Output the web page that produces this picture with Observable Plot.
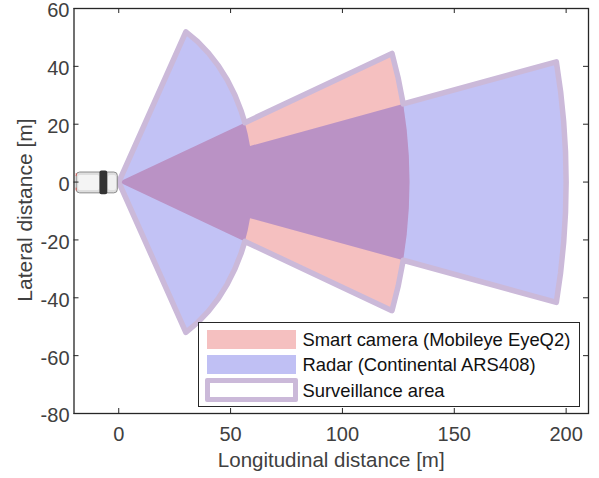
<!DOCTYPE html>
<html><head><meta charset="utf-8">
<script src="https://cdn.jsdelivr.net/npm/d3@7"></script>
<script src="https://cdn.jsdelivr.net/npm/@observablehq/plot@0.6"></script>
<style>
html,body{margin:0;padding:0;background:#fff}
#wrap{position:relative;width:599px;height:478px;font-family:"Liberation Sans",Arial,sans-serif}
#legend{position:absolute;left:198px;top:322px;width:382px;height:85px;box-sizing:border-box;background:#fff;border:1.3px solid #262626;font-size:18.4px;color:#111}
#legend .row{position:absolute;left:103.5px;line-height:20px;white-space:nowrap}
#legend .sw{position:absolute;left:8px;width:89px;height:18.5px}
</style></head><body>
<div id="wrap">
<div id="legend">
<div class="sw" style="top:7px;background:#f5c0c0"></div><div class="row" style="top:7px">Smart camera (Mobileye EyeQ2)</div>
<div class="sw" style="top:32px;background:#c0c0f4"></div><div class="row" style="top:32px">Radar (Continental ARS408)</div>
<div class="sw" style="top:55px;left:6px;width:83px;height:14px;border:5px solid #cbb9d9;border-radius:2px"></div><div class="row" style="top:58px">Surveillance area</div>
</div>
</div>
<script>
const xTicks = [0, 50, 100, 150, 200];
const yTicks = [-80, -60, -40, -20, 0, 20, 40, 60];
const xLabel = ["Longitudinal distance [m]"];
const yLabel = ["Lateral distance [m]"];

const cameraX = [0, 122.16, 124.96, 127.16, 128.73, 129.68, 130, 129.68, 128.73, 127.16, 124.96, 122.16, 0];
const cameraY = [0, 44.46, 35.83, 27.03, 18.09, 9.07, 0, -9.07, -18.09, -27.03, -35.83, -44.46, 0];

const radarX = [0, 30, 35.27, 40.15, 44.59, 48.54, 51.96, 54.81, 56.38, 57.68, 58.69, 195.63, 197.54, 198.9, 199.73, 200, 199.73, 198.9, 197.54, 195.63, 58.69, 57.68, 56.38, 54.81, 51.96, 48.54, 44.59, 40.15, 35.27, 30, 0];
const radarY = [0, 51.96, 48.54, 44.59, 40.15, 35.27, 30, 24.4, 20.52, 16.54, 12.47, 41.58, 31.29, 20.91, 10.47, 0, -10.47, -20.91, -31.29, -41.58, -12.47, -16.54, -20.52, -24.4, -30, -35.27, -40.15, -44.59, -48.54, -51.96, 0];

const areaX = [0, 30, 35.27, 40.15, 44.59, 48.54, 51.96, 54.81, 56.38, 122.16, 124.96, 127.16, 195.63, 197.54, 198.9, 199.73, 200, 199.73, 198.9, 197.54, 195.63, 127.16, 124.96, 122.16, 56.38, 54.81, 51.96, 48.54, 44.59, 40.15, 35.27, 30, 0];
const areaY = [0, 51.96, 48.54, 44.59, 40.15, 35.27, 30, 24.4, 20.52, 44.46, 35.83, 27.03, 41.58, 31.29, 20.91, 10.47, 0, -10.47, -20.91, -31.29, -41.58, -27.03, -35.83, -44.46, -20.52, -24.4, -30, -35.27, -40.15, -44.59, -48.54, -51.96, 0];

const pts = (xs, ys) => xs.map((x, i) => ({x, y: ys[i]}));
const axisColor = "#262626";
const textColor = "#404040";
const innerW = 514.5, innerH = 405, tick = 5;

const chart = Plot.plot({
  width: 599, height: 478,
  marginLeft: 73.5, marginRight: 11, marginTop: 8, marginBottom: 65,
  style: {fontFamily: '"Liberation Sans",Arial,sans-serif', background: "#fff", overflow: "visible"},
  x: {domain: [-20, 210]},
  y: {domain: [-80, 60]},
  marks: [
    Plot.line(pts(cameraX, cameraY), {x: "x", y: "y", fill: "#f5c0c0", stroke: "none"}),
    Plot.line(pts(radarX, radarY), {x: "x", y: "y", fill: "rgb(0,0,213)", fillOpacity: 0.24, stroke: "none"}),
    Plot.line(pts(areaX, areaY), {x: "x", y: "y", stroke: "#cbb9d9", strokeWidth: 5.5, strokeLinejoin: "round"}),
    // vehicle
    Plot.rect([0], {x1: -18.8, x2: -0.4, y1: -3.9, y2: 3.3, fill: "#dedede", stroke: "#8c8c8c", strokeWidth: 1, r: 3.5}),
    Plot.rect([0], {x1: -17.9, x2: -8.6, y1: -2.9, y2: 2.3, fill: "#f4f4f4", r: 1.5}),
    Plot.rect([0], {x1: -4.6, x2: -1, y1: -2.9, y2: 2.3, fill: "#f1f1f1", r: 2}),
    Plot.rect([0], {x1: -8.4, x2: -4.9, y1: -4.4, y2: 3.8, fill: "#333333", r: 2}),
    Plot.rect([0, 1], {x1: -19, x2: -18.6, y1: d => d ? -3.1 : 1.9, y2: d => d ? -2.1 : 2.9, fill: "#d8504a"}),
    Plot.axisX(xTicks, {anchor: "bottom", tickSize: 0, tickPadding: 13, fontSize: 20, fill: textColor, label: null, tickFormat: String}),
    Plot.axisY(yTicks, {anchor: "left", tickSize: 0, tickPadding: 4.5, dy: 2.5, fontSize: 20, fill: textColor, label: null, tickFormat: String}),
    Plot.text(xLabel, {text: d => d, frameAnchor: "bottom", lineAnchor: "middle", textAnchor: "middle", dy: 47, fontSize: 20.5, fill: textColor}),
    Plot.text(yLabel, {text: d => d, frameAnchor: "left", lineAnchor: "middle", textAnchor: "middle", rotate: -90, dx: -48.5, dy: -1, fontSize: 21, fill: textColor}),
    Plot.tickX(xTicks, {x: d => d, insetBottom: innerH - tick, stroke: axisColor}),
    Plot.tickX(xTicks, {x: d => d, insetTop: innerH - tick, stroke: axisColor}),
    Plot.tickY(yTicks, {y: d => d, insetLeft: innerW - tick, stroke: axisColor}),
    Plot.tickY(yTicks, {y: d => d, insetRight: innerW - tick, stroke: axisColor}),
    Plot.frame({stroke: axisColor, strokeWidth: 1.3})
  ]
});
document.getElementById("wrap").prepend(chart);
</script>
</body></html>
